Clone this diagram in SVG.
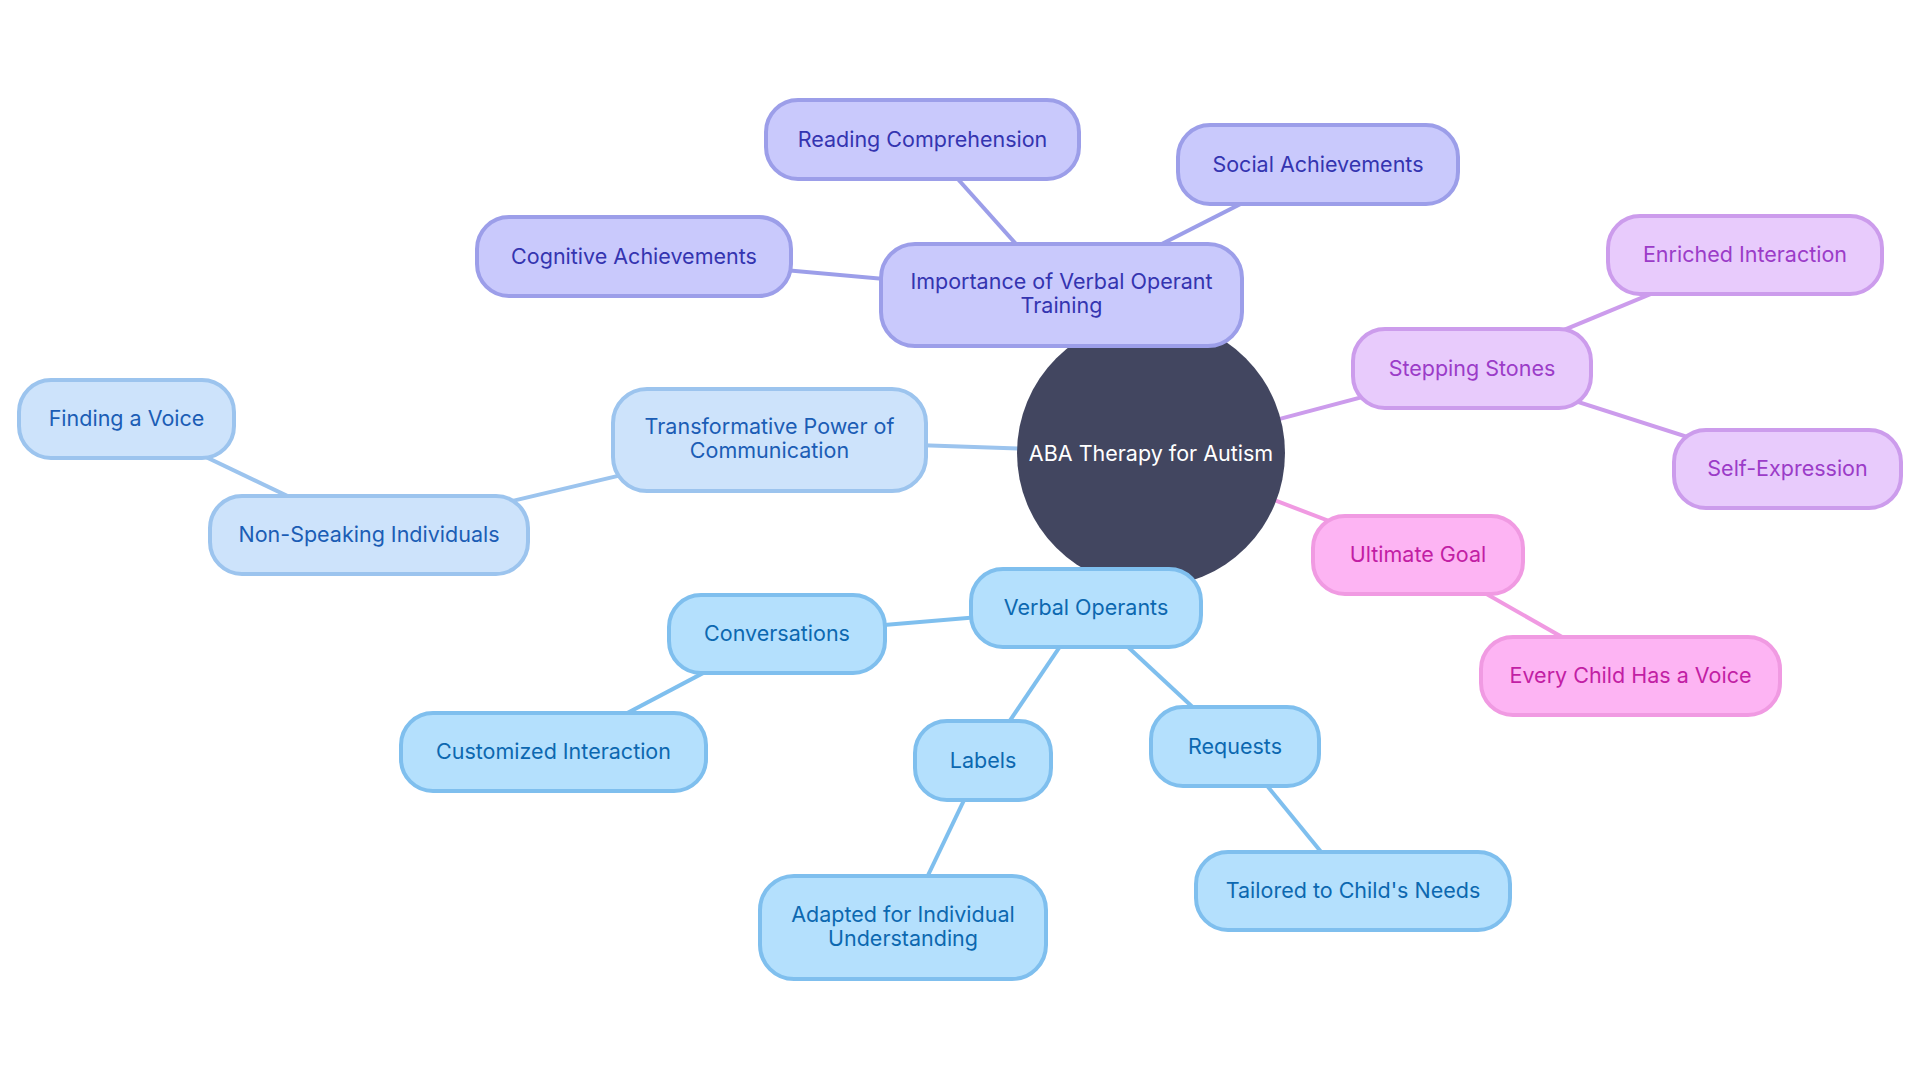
<svg xmlns="http://www.w3.org/2000/svg" width="1920" height="1080" viewBox="0 0 1920 1080">
<style>
text{font-family:Inter,"Noto Sans","Liberation Sans",sans-serif;font-size:21.5px;text-anchor:middle;font-weight:400}
.n rect{stroke-width:4}
.edges line{stroke-width:4;fill:none}
.pu rect{fill:#c9c9fc;stroke:#9c9ee9}.pu text{fill:#3434b0}
.lb rect{fill:#cde3fb;stroke:#9cc4ee}.lb text{fill:#1b5db5}
.sb rect{fill:#b4e0fd;stroke:#7fbfee}.sb text{fill:#0c68b0}
.li rect{fill:#e8cbfc;stroke:#cc9cec}.li text{fill:#9b3cc8}
.pk rect{fill:#fdb4f3;stroke:#f09ae2}.pk text{fill:#c21ea4}
.e-pu{stroke:#9c9ee9}.e-lb{stroke:#9cc4ee}.e-sb{stroke:#7fbfee}.e-li{stroke:#cc9cec}.e-pk{stroke:#f09ae2}
</style>
<rect width="1920" height="1080" fill="#ffffff"/>
<g id="connectors" class="edges">
<line class="e-pu" x1="1151" y1="453" x2="1061.5" y2="295"/>
<line class="e-pu" x1="1061.5" y1="295" x2="922.5" y2="139.5"/>
<line class="e-pu" x1="1061.5" y1="295" x2="1318" y2="164.5"/>
<line class="e-pu" x1="1061.5" y1="295" x2="634" y2="256.5"/>
<line class="e-li" x1="1151" y1="453" x2="1472" y2="368"/>
<line class="e-li" x1="1472" y1="368" x2="1745" y2="255"/>
<line class="e-li" x1="1472" y1="368" x2="1787.5" y2="469"/>
<line class="e-pk" x1="1151" y1="453" x2="1418" y2="555"/>
<line class="e-pk" x1="1418" y1="555" x2="1630.5" y2="676"/>
<line class="e-lb" x1="1151" y1="453" x2="769.5" y2="440"/>
<line class="e-lb" x1="769.5" y1="440" x2="369" y2="535"/>
<line class="e-lb" x1="369" y1="535" x2="126.5" y2="419"/>
<line class="e-sb" x1="1151" y1="453" x2="1086" y2="608"/>
<line class="e-sb" x1="1086" y1="608" x2="777" y2="634"/>
<line class="e-sb" x1="777" y1="634" x2="553.5" y2="752"/>
<line class="e-sb" x1="1086" y1="608" x2="983" y2="760.5"/>
<line class="e-sb" x1="983" y1="760.5" x2="903" y2="927.5"/>
<line class="e-sb" x1="1086" y1="608" x2="1235" y2="746.5"/>
<line class="e-sb" x1="1235" y1="746.5" x2="1353" y2="891"/>
</g>
<g id="root">
<circle cx="1151" cy="453" r="134" fill="#424660"/>
<text x="1151" y="461" fill="#ffffff">ABA Therapy for Autism</text>
</g>
<g id="importance" class="n pu">
<rect x="881" y="244" width="361" height="102" rx="34"/>
<text x="1061.5" y="289">Importance of Verbal Operant</text>
<text x="1061.5" y="313">Training</text>
</g>
<g id="reading" class="n pu">
<rect x="766" y="100" width="313" height="79" rx="32"/>
<text x="922.5" y="147">Reading Comprehension</text>
</g>
<g id="social" class="n pu">
<rect x="1178" y="125" width="280" height="79" rx="32"/>
<text x="1318" y="172">Social Achievements</text>
</g>
<g id="cognitive" class="n pu">
<rect x="477" y="217" width="314" height="79" rx="32"/>
<text x="634" y="264">Cognitive Achievements</text>
</g>
<g id="stepping" class="n li">
<rect x="1353" y="329" width="238" height="79" rx="32"/>
<text x="1472" y="376">Stepping Stones</text>
</g>
<g id="enriched" class="n li">
<rect x="1608" y="216" width="274" height="78" rx="32"/>
<text x="1745" y="262">Enriched Interaction</text>
</g>
<g id="selfexpression" class="n li">
<rect x="1674" y="430" width="227" height="78" rx="32"/>
<text x="1787.5" y="476">Self-Expression</text>
</g>
<g id="ultimate" class="n pk">
<rect x="1313" y="516" width="210" height="78" rx="32"/>
<text x="1418" y="562">Ultimate Goal</text>
</g>
<g id="everychild" class="n pk">
<rect x="1481" y="637" width="299" height="78" rx="32"/>
<text x="1630.5" y="683">Every Child Has a Voice</text>
</g>
<g id="transformative" class="n lb">
<rect x="613" y="389" width="313" height="102" rx="34"/>
<text x="769.5" y="434">Transformative Power of</text>
<text x="769.5" y="458">Communication</text>
</g>
<g id="finding" class="n lb">
<rect x="19" y="380" width="215" height="78" rx="32"/>
<text x="126.5" y="426">Finding a Voice</text>
</g>
<g id="nonspeaking" class="n lb">
<rect x="210" y="496" width="318" height="78" rx="32"/>
<text x="369" y="542">Non-Speaking Individuals</text>
</g>
<g id="verbal" class="n sb">
<rect x="971" y="569" width="230" height="78" rx="32"/>
<text x="1086" y="615">Verbal Operants</text>
</g>
<g id="conversations" class="n sb">
<rect x="669" y="595" width="216" height="78" rx="32"/>
<text x="777" y="641">Conversations</text>
</g>
<g id="customized" class="n sb">
<rect x="401" y="713" width="305" height="78" rx="32"/>
<text x="553.5" y="759">Customized Interaction</text>
</g>
<g id="labels" class="n sb">
<rect x="915" y="721" width="136" height="79" rx="32"/>
<text x="983" y="768">Labels</text>
</g>
<g id="requests" class="n sb">
<rect x="1151" y="707" width="168" height="79" rx="32"/>
<text x="1235" y="754">Requests</text>
</g>
<g id="adapted" class="n sb">
<rect x="760" y="876" width="286" height="103" rx="34"/>
<text x="903" y="922">Adapted for Individual</text>
<text x="903" y="946">Understanding</text>
</g>
<g id="tailored" class="n sb">
<rect x="1196" y="852" width="314" height="78" rx="32"/>
<text x="1353" y="898">Tailored to Child's Needs</text>
</g>
</svg>
